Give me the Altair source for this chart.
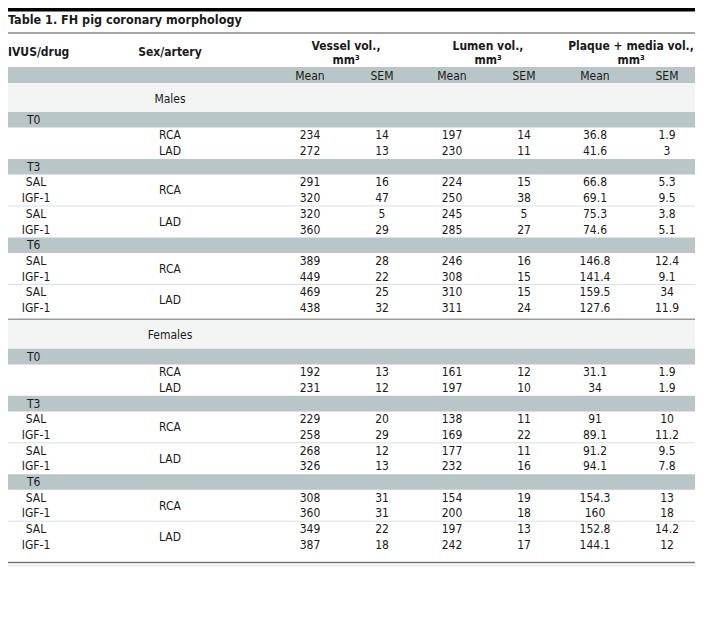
import altair as alt
import pandas as pd

# ---------------- data ----------------
title_text = "Table 1. FH pig coronary morphology"
header_left = ["IVUS/drug", "Sex/artery"]
measures = ["Vessel vol.,", "Lumen vol.,", "Plaque + media vol.,"]
unit = "mm³"
stats = ["Mean", "SEM"]
sexes = ["Males", "Females"]
timepoints = ["T0", "T3", "T6"]
arteries = ["RCA", "LAD"]
drugs = ["SAL", "IGF-1"]

# row order: T0 RCA, T0 LAD, T3 SAL/RCA, T3 IGF-1/RCA, T3 SAL/LAD, T3 IGF-1/LAD, T6 (same 4)
males_vessel_mean = ["234", "272", "291", "320", "320", "360", "389", "449", "469", "438"]
males_vessel_sem = ["14", "13", "16", "47", "5", "29", "28", "22", "25", "32"]
males_lumen_mean = ["197", "230", "224", "250", "245", "285", "246", "308", "310", "311"]
males_lumen_sem = ["14", "11", "15", "38", "5", "27", "16", "15", "15", "24"]
males_plaque_mean = ["36.8", "41.6", "66.8", "69.1", "75.3", "74.6", "146.8", "141.4", "159.5", "127.6"]
males_plaque_sem = ["1.9", "3", "5.3", "9.5", "3.8", "5.1", "12.4", "9.1", "34", "11.9"]

females_vessel_mean = ["192", "231", "229", "258", "268", "326", "308", "360", "349", "387"]
females_vessel_sem = ["13", "12", "20", "29", "12", "13", "31", "31", "22", "18"]
females_lumen_mean = ["161", "197", "138", "169", "177", "232", "154", "200", "197", "242"]
females_lumen_sem = ["12", "10", "11", "22", "11", "16", "19", "18", "13", "17"]
females_plaque_mean = ["31.1", "34", "91", "89.1", "91.2", "94.1", "154.3", "160", "152.8", "144.1"]
females_plaque_sem = ["1.9", "1.9", "10", "11.2", "9.5", "7.8", "13", "18", "14.2", "12"]

values_by_sex = {
    "Males": [males_vessel_mean, males_vessel_sem, males_lumen_mean,
              males_lumen_sem, males_plaque_mean, males_plaque_sem],
    "Females": [females_vessel_mean, females_vessel_sem, females_lumen_mean,
                females_lumen_sem, females_plaque_mean, females_plaque_sem],
}

# ---------------- layout (reference pixel coordinates) ----------------
W, H = 687, 610
LEFT, RIGHT = 8, 695
col_drug = 36
col_tp = 27
col_sex = 170
value_x = [310, 382, 452, 524, 595, 667]
BAND = 15.6
ROW = 15.7
SECTION = 29
BAND_COLOR = "#b8c6c7"
SECTION_COLOR = "#f3f5f5"
LIGHT_LINE = "#d9e0e0"
TXT = "#1a1a1a"
FONT = "DejaVu Sans Condensed, DejaVu Sans, sans-serif"
FS = 12

texts, rects, rules = [], [], []


def add_text(x, y, t, align="center", weight="normal", size=FS):
    texts.append(dict(x=x, y=y, t=t, align=align, weight=weight, size=size))


# top black bar & title
rects.append(dict(x=LEFT, x2=RIGHT, y=8, y2=11.5, c="#000000"))
add_text(LEFT, 20, title_text, "left", "bold", 12.5)
rules.append(dict(x=LEFT, x2=RIGHT, y=33, c="#4d4d4d", w=1.2))

# headers
add_text(LEFT, 52, header_left[0], "left", "bold")
add_text(170, 52, header_left[1], "center", "bold")
for i, m in enumerate(measures):
    cx = (value_x[2 * i] + value_x[2 * i + 1]) / 2
    add_text(cx, 46, m, "center", "bold")
    add_text(cx, 60, unit, "center", "bold")

rects.append(dict(x=LEFT, x2=RIGHT, y=67, y2=83, c=BAND_COLOR))
for i, vx in enumerate(value_x):
    add_text(vx, 75.5, stats[i % 2])

cur = 83
for s_idx, sex in enumerate(sexes):
    vals = values_by_sex[sex]
    if s_idx > 0:
        cur += 4
        rules.append(dict(x=LEFT, x2=RIGHT, y=cur - 0.5, c="#9a9a9a", w=1.5))
    rects.append(dict(x=LEFT, x2=RIGHT, y=cur, y2=cur + SECTION, c=SECTION_COLOR))
    add_text(col_sex, cur + SECTION / 2 + 1, sex)
    cur += SECTION
    r = 0
    for tp in timepoints:
        rects.append(dict(x=LEFT, x2=RIGHT, y=cur, y2=cur + BAND, c=BAND_COLOR))
        add_text(col_tp, cur + BAND / 2, tp, "left")
        cur += BAND
        if tp == "T0":
            for art in arteries:
                yc = cur + ROW / 2
                add_text(col_sex, yc, art)
                for k, vx in enumerate(value_x):
                    add_text(vx, yc, vals[k][r])
                r += 1
                cur += ROW
        else:
            for a_idx, art in enumerate(arteries):
                if a_idx > 0:
                    rules.append(dict(x=LEFT, x2=RIGHT, y=cur, c=LIGHT_LINE, w=1))
                add_text(col_sex, cur + ROW, art)
                for drug in drugs:
                    yc = cur + ROW / 2
                    add_text(col_drug, yc, drug)
                    for k, vx in enumerate(value_x):
                        add_text(vx, yc, vals[k][r])
                    r += 1
                    cur += ROW

cur += 10
rules.append(dict(x=LEFT, x2=RIGHT, y=cur, c="#7a7a7a", w=1.5))
rules.append(dict(x=LEFT, x2=RIGHT, y=cur + 3, c="#e3e3e3", w=1))

tdf = pd.DataFrame(texts)
rdf = pd.DataFrame(rects)
ldf = pd.DataFrame(rules)

xs = alt.Scale(domain=[LEFT, RIGHT], nice=False, zero=False)
ys = alt.Scale(domain=[8, 8 + H], nice=False, zero=False, reverse=True)

rect_layer = alt.Chart(rdf).mark_rect(strokeWidth=0).encode(
    x=alt.X("x:Q", scale=xs, axis=None),
    x2="x2:Q",
    y=alt.Y("y:Q", scale=ys, axis=None),
    y2="y2:Q",
    color=alt.Color("c:N", scale=None),
)

rule_layer = alt.Chart(ldf).mark_rule().encode(
    x=alt.X("x:Q", scale=xs, axis=None),
    x2="x2:Q",
    y=alt.Y("y:Q", scale=ys, axis=None),
    color=alt.Color("c:N", scale=None),
    strokeWidth=alt.StrokeWidth("w:Q", scale=None),
)

layers = [rect_layer, rule_layer]
for (align, weight), sub in tdf.groupby(["align", "weight"]):
    layers.append(
        alt.Chart(sub).mark_text(
            align=align, baseline="middle", fontWeight=weight, font=FONT, color=TXT
        ).encode(
            x=alt.X("x:Q", scale=xs, axis=None),
            y=alt.Y("y:Q", scale=ys, axis=None),
            text="t:N",
            size=alt.Size("size:Q", scale=None),
        )
    )

chart = alt.layer(*layers).properties(
    width=W, height=H, padding=0, autosize="none", background="white"
).configure_view(stroke=None)

chart.save("out.html", embed_options={"renderer": "svg", "actions": False})
